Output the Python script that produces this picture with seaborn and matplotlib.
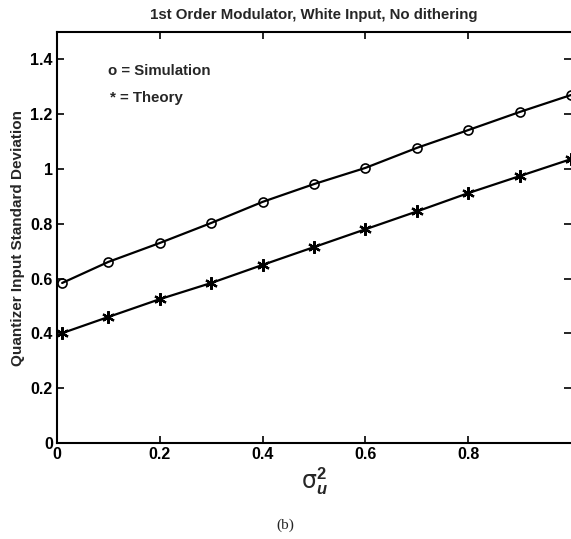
import matplotlib
matplotlib.use("Agg")
import matplotlib.pyplot as plt
import seaborn as sns
import pandas as pd

# Input noise variance values (x axis)
sigma_u2 = [0.01, 0.1, 0.2, 0.3, 0.4, 0.5, 0.6, 0.7, 0.8, 0.9, 1.0]
# Quantizer input standard deviation, simulated and predicted
simulation = [0.584, 0.661, 0.730, 0.803, 0.880, 0.945, 1.004, 1.077, 1.142, 1.208, 1.270]
theory = [0.401, 0.460, 0.525, 0.584, 0.650, 0.715, 0.780, 0.845, 0.912, 0.974, 1.036]

xticks = [0, 0.2, 0.4, 0.6, 0.8]
xtick_labels = ["0", "0.2", "0.4", "0.6", "0.8"]
yticks = [0, 0.2, 0.4, 0.6, 0.8, 1.0, 1.2, 1.4]
ytick_labels = ["0", "0.2", "0.4", "0.6", "0.8", "1", "1.2", "1.4"]

title = "1st Order Modulator, White Input, No dithering"
ylabel = "Quantizer Input Standard Deviation"

sns.set_style("ticks")
plt.rcParams["font.family"] = ["Liberation Sans", "DejaVu Sans"]
plt.rcParams["mathtext.fontset"] = "custom"
plt.rcParams["mathtext.rm"] = "DejaVu Sans"
plt.rcParams["mathtext.it"] = "Liberation Sans:italic:bold"
plt.rcParams["mathtext.bf"] = "Liberation Sans:bold"

df = pd.DataFrame({"x": sigma_u2, "sim": simulation, "theory": theory})

fig = plt.figure(figsize=(5.71, 5.39), dpi=100)
ax = fig.add_axes([57 / 571, 1 - 443 / 539, 1 - 57 / 571, (443 - 32) / 539])

sns.lineplot(data=df, x="x", y="sim", ax=ax, color="black", linewidth=1.6,
             marker="o", markersize=6.5, markerfacecolor="none",
             markeredgecolor="black", markeredgewidth=1.2)
sns.lineplot(data=df, x="x", y="theory", ax=ax, color="black", linewidth=1.6,
             marker=(6, 2, 0), markersize=9, markeredgecolor="black",
             markeredgewidth=1.6)

ax.set_xlim(0, 1.0)
ax.set_ylim(0, 1.5)
ax.set_xticks(xticks)
ax.set_xticklabels(xtick_labels)
ax.set_yticks(yticks)
ax.set_yticklabels(ytick_labels)
ax.tick_params(direction="in", length=5, width=1.2, top=True, right=True,
               labelsize=11.5, pad=3, colors="black")
for lab in ax.get_xticklabels() + ax.get_yticklabels():
    lab.set_fontweight("bold")
for side in ("left", "bottom", "top"):
    ax.spines[side].set_linewidth(1.5)
    ax.spines[side].set_color("black")
ax.spines["right"].set_visible(False)

ax.set_title(title, fontsize=10.8, fontweight="bold", pad=9)
ax.set_ylabel(ylabel, fontsize=11, fontweight="bold", labelpad=4)
ax.set_xlabel(r"$\mathrm{\sigma}_{\mathit{u}}^{\mathbf{2}}$", fontsize=17, labelpad=2)

ax.text(0.1, 0.905, "o = Simulation", transform=ax.transAxes,
        fontsize=10.8, fontweight="bold", va="center")
ax.text(0.103, 0.84, "* = Theory", transform=ax.transAxes,
        fontsize=10.8, fontweight="bold", va="center")

fig.text(285 / 571, 1 - 525 / 539, "(b)", fontsize=11,
         family=["Liberation Serif", "DejaVu Serif"], ha="center", va="center")

fig.savefig("out.png", dpi=100)
